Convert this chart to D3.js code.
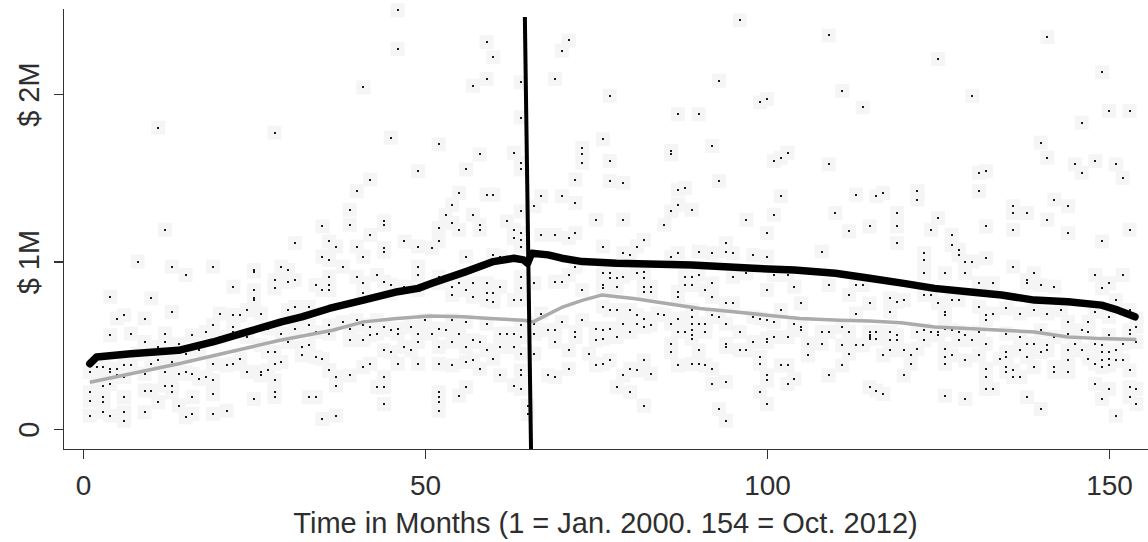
<!DOCTYPE html>
<html>
<head>
<meta charset="utf-8">
<script src="https://cdn.jsdelivr.net/npm/d3@7"></script>
<style>
  html, body { margin: 0; padding: 0; background: #fff; }
  svg { display: block; }
  text { font-family: "Liberation Sans", Arial, sans-serif; fill: #2e2e2e; }
</style>
</head>
<body>
<svg id="chart" width="1148" height="542"></svg>
<script>
// ---------------- DATA ----------------
const xTicks = [0, 50, 100, 150];
const yTicks = [0, 1, 2];                 // millions of dollars
const yTickLabels = ["0", "$ 1M", "$ 2M"];
const xTitle = "Time in Months (1 = Jan. 2000. 154 = Oct. 2012)";

// mean (black) line: month, value in $M
const meanMonths = [1, 2, 7, 14, 19, 24, 29, 32, 36, 41, 46, 49, 51, 56, 60, 63, 64.4, 65, 65.6, 68, 70, 73, 76, 78, 89, 98, 104, 110, 115, 120, 124.5, 129.4, 134.3, 139.1, 144, 148.9, 151.3, 153.8];
const meanValues = [0.39, 0.43, 0.45, 0.47, 0.52, 0.58, 0.64, 0.67, 0.72, 0.77, 0.82, 0.84, 0.87, 0.94, 1.00, 1.02, 1.01, 0.99, 1.05, 1.04, 1.02, 1.00, 0.995, 0.99, 0.98, 0.96, 0.95, 0.93, 0.90, 0.87, 0.84, 0.82, 0.80, 0.77, 0.76, 0.74, 0.71, 0.67];

// median (grey) line
const medianMonths = [1, 7, 14, 21.4, 28.8, 36.5, 41, 45.9, 50.7, 55.6, 59.5, 64.4, 65.8, 70.2, 73.1, 75.8, 80.5, 85.3, 90.2, 95.1, 100, 104.8, 110.7, 115, 119.6, 124.5, 129.4, 134.3, 139.1, 144, 148.9, 154];
const medianValues = [0.28, 0.33, 0.39, 0.46, 0.53, 0.59, 0.64, 0.66, 0.675, 0.67, 0.66, 0.65, 0.64, 0.73, 0.77, 0.80, 0.78, 0.75, 0.72, 0.70, 0.68, 0.66, 0.65, 0.645, 0.635, 0.61, 0.60, 0.59, 0.58, 0.55, 0.54, 0.535];

// vertical break line (month, $M) top and bottom
const breakLine = [[64.6, 2.46], [65.5, -0.12]];

// individual observations: [month, value in $M]
const scatter = [
 [11,1.80],[28,1.77],[12,1.19],[31,1.11],[35,1.21],[36,1.12],
 [46,2.50],[46,2.27],[41,2.04],[59,2.31],[60,2.22],[59,2.09],[57,2.05],[64,2.07],[64,1.86],[71,2.32],[70,2.26],[69,2.09],
 [45,1.74],[52,1.70],[58,1.64],[63,1.65],[64,1.59],[64,1.55],[56,1.55],[49,1.54],[42,1.49],[73,1.68],[73,1.64],[73,1.59],[72,1.49],
 [40,1.42],[39,1.31],[55,1.41],[59,1.40],[60,1.40],[54,1.34],[53,1.28],[57,1.28],[64,1.30],[66,1.33],[67,1.39],[70,1.39],[72,1.35],[75,1.25],
 [39,1.22],[44,1.24],[44,1.22],[52,1.20],[54,1.23],[55,1.19],[58,1.22],[58,1.19],[62,1.24],[63,1.19],[64,1.17],[63,1.14],
 [37,1.09],[42,1.16],[44,1.08],[44,1.06],[47,1.12],[49,1.09],[52,1.12],[51,1.08],[56,1.03],[60,1.04],[61,1.03],[64,1.13],[64,1.09],[40,1.09],[41,1.03],
 [67,1.16],[69,1.16],[71,1.14],[72,1.17],
 [96,2.44],[109,2.35],[93,2.08],[77,1.99],[87,1.88],[90,1.88],[99,1.95],[100,1.97],[111,2.02],[114,1.92],[76,1.73],[77,1.60],[86,1.66],[86,1.64],[92,1.69],
 [101,1.60],[102,1.62],[103,1.65],[109,1.58],[77,1.48],[79,1.47],[93,1.48],[87,1.43],[88,1.44],[87,1.34],[89,1.31],[86,1.30],[102,1.39],[101,1.28],
 [113,1.40],[116,1.39],[117,1.41],[110,1.29],[119,1.29],[79,1.25],[85,1.22],[97,1.25],[112,1.18],[115,1.21],[82,1.13],[81,1.09],[94,1.11],[100,1.17],[119,1.11],
 [141,2.34],[125,2.21],[149,2.13],[130,1.99],[150,1.90],[153,1.90],[146,1.83],[140,1.71],[141,1.62],[145,1.58],[148,1.60],[146,1.53],[151,1.58],[152,1.50],
 [131,1.53],[132,1.54],[131,1.42],[122,1.42],[122,1.37],[142,1.37],[144,1.33],[136,1.33],[136,1.29],[138,1.29],[141,1.25],[119,1.21],[125,1.26],[124,1.19],
 [127,1.16],[127,1.10],[132,1.21],[136,1.19],[144,1.17],[149,1.12],[153,1.19],
 [76,1.09],[79,1.05],[80,1.04],[81,1.09],[86,1.03],[87,1.05],[90,1.06],[92,1.05],[94,1.06],[95,1.05],[98,1.04],[100,1.03],[108,1.06],
 [123,1.05],[123,1.01],[128,1.07],[128,1.04],[129,1.00],[130,1.00],[132,1.02],[123,0.93],[126,0.93],[129,0.93],[136,0.97],[139,0.93],[138,0.89],[138,0.87],
 [140,0.86],[142,0.85],[148,0.92],[150,0.87],[149,0.84],[152,0.92],[131,0.87],[133,0.87],
 [8,1.00],[35,1.03],[36,1.01],[13,0.97],[15,0.92],[19,0.97],[25,0.95],[25,0.94],[29,0.97],[30,0.95],[28,0.89],[28,0.84],[30,0.88],[31,0.89],[22,0.85],
 [25,0.83],[25,0.78],[25,0.77],[34,0.86],[35,0.83],[36,0.86],[36,0.83],
 [4,0.79],[10,0.78],[13,0.70],[5,0.66],[6,0.68],[9,0.66],[4,0.56],[7,0.57],[9,0.52],[12,0.57],[12,0.52],[14,0.51],[16,0.56],[20,0.69],[18,0.58],[19,0.62],
 [22,0.68],[23,0.68],[24,0.71],[26,0.69],[30,0.71],[31,0.73],[33,0.73],[20,0.55],[22,0.61],[22,0.58],
 [1,0.34],[2,0.37],[3,0.37],[4,0.36],[4,0.34],[5,0.36],[6,0.38],[7,0.38],[9,0.33],[3,0.26],[4,0.27],[5,0.32],[6,0.31],[10,0.39],[11,0.41],[12,0.34],[13,0.40],
 [14,0.33],[15,0.34],[16,0.33],[17,0.30],[18,0.31],[19,0.29],[19,0.39],[21,0.38],[22,0.39],[23,0.42],[24,0.34],[26,0.34],[26,0.32],[27,0.35],[27,0.46],
 [28,0.46],[28,0.39],[28,0.29],[29,0.40],[32,0.49],[33,0.50],[34,0.43],[35,0.42],[36,0.35],[32,0.44],
 [1,0.22],[1,0.17],[3,0.19],[3,0.16],[6,0.19],[9,0.23],[10,0.23],[11,0.16],[12,0.26],[13,0.22],[13,0.26],[14,0.14],[16,0.19],[19,0.21],[16,0.09],[15,0.07],
 [1,0.08],[3,0.10],[4,0.08],[6,0.10],[6,0.05],[9,0.10],[19,0.09],[21,0.11],[25,0.18],[28,0.22],[28,0.19],[33,0.19],[34,0.19],[35,0.06],
 [24,0.55],[27,0.60],[29,0.57],[31,0.60],[33,0.62],[34,0.58],[36,0.62],[30,0.52],[26,0.50],[17,0.47],[15,0.45],[8,0.45],[11,0.49],[2,0.29],
 [36,0.91],[38,0.97],[40,0.91],[41,0.87],[41,0.81],[43,0.92],[44,0.88],[45,0.81],[45,0.86],[47,0.85],[49,0.97],[49,0.92],[49,0.83],[52,0.91],[52,0.87],
 [54,0.85],[54,0.80],[55,0.87],[56,0.83],[57,0.87],[57,0.79],[59,0.87],[59,0.81],[59,0.77],[60,0.81],[60,0.76],[61,0.85],[63,0.77],[64,0.91],[64,0.84],[64,0.77],
 [66,0.87],[69,0.88],[70,0.88],[71,0.92],[73,0.83],[72,0.97],
 [36,0.57],[38,0.64],[39,0.60],[39,0.53],[40,0.65],[41,0.62],[41,0.53],[42,0.61],[42,0.56],[43,0.65],[43,0.57],[44,0.61],[44,0.47],[45,0.59],[45,0.46],
 [46,0.60],[46,0.57],[47,0.49],[48,0.61],[48,0.47],[49,0.57],[49,0.52],[50,0.65],[51,0.57],[52,0.60],[52,0.49],[53,0.59],[54,0.65],[54,0.52],[55,0.57],
 [56,0.64],[56,0.49],[57,0.53],[57,0.41],[58,0.52],[59,0.63],[59,0.47],[60,0.42],[61,0.57],[61,0.49],[62,0.57],[63,0.57],[63,0.49],[64,0.62],[64,0.55],[64,0.45],
 [66,0.63],[66,0.57],[66,0.45],[67,0.69],[68,0.59],[69,0.59],[69,0.52],[70,0.64],[71,0.47],[72,0.58],[72,0.55],[73,0.65],[74,0.45],[75,0.60],[75,0.53],
 [36,0.35],[39,0.32],[41,0.37],[42,0.39],[43,0.25],[44,0.25],[44,0.15],[44,0.31],[46,0.39],[49,0.39],[52,0.22],[52,0.19],[52,0.16],[52,0.11],[52,0.39],
 [54,0.38],[55,0.20],[56,0.25],[56,0.40],[58,0.36],[61,0.32],[63,0.26],[64,0.35],[64,0.32],[64,0.24],[65,0.14],[65,0.09],[68,0.32],[69,0.31],[71,0.36],[75,0.38],
 [37,0.08],[37,0.31],[37,0.26],
 [76,0.93],[76,0.86],[76,0.84],[77,0.93],[77,0.90],[78,0.90],[78,0.85],[79,0.91],[81,0.93],[82,0.94],[82,0.90],[82,0.85],[82,0.82],[83,0.85],[83,0.82],
 [87,0.82],[87,0.79],[88,0.91],[88,0.86],[89,0.91],[89,0.86],[90,0.92],[91,0.83],[92,0.87],[92,0.79],[95,0.91],[97,0.93],[100,0.83],[101,0.92],[103,0.92],
 [104,0.85],[109,0.86],[112,0.80],[113,0.86],[114,0.86],[115,0.75],
 [76,0.73],[77,0.71],[78,0.71],[80,0.71],[81,0.68],[82,0.66],[84,0.69],[85,0.68],[87,0.66],[89,0.71],[89,0.67],[89,0.63],[89,0.59],[89,0.56],[89,0.54],
 [90,0.63],[91,0.63],[92,0.68],[93,0.67],[94,0.75],[94,0.63],[94,0.51],[94,0.49],[95,0.75],[96,0.58],[98,0.67],[99,0.66],[100,0.65],[100,0.54],[100,0.52],
 [101,0.64],[101,0.55],[102,0.71],[103,0.55],[104,0.63],[105,0.75],[105,0.61],[105,0.59],[106,0.44],[108,0.58],[108,0.51],[109,0.58],[111,0.61],[111,0.50],
 [112,0.58],[112,0.45],[113,0.69],[113,0.50],[114,0.50],[115,0.58],[115,0.55],[76,0.59],[76,0.54],[77,0.60],[78,0.55],[79,0.63],[80,0.58],[81,0.63],[82,0.61],
 [83,0.62],[86,0.63],[86,0.51],[86,0.46],[87,0.58],[87,0.38],[88,0.58],[90,0.47],[91,0.58],[96,0.47],[97,0.47],[98,0.52],[99,0.43],[99,0.39],[102,0.38],
 [103,0.38],[106,0.51],[76,0.39],[77,0.41],
 [79,0.32],[80,0.36],[81,0.35],[82,0.41],[83,0.33],[78,0.25],[80,0.22],[82,0.14],[89,0.39],[90,0.39],[91,0.38],[92,0.36],[92,0.27],[93,0.12],[94,0.28],
 [94,0.05],[99,0.22],[100,0.32],[100,0.29],[100,0.15],[103,0.27],[104,0.30],[109,0.32],[111,0.38],[115,0.25],
 [118,0.78],[118,0.70],[119,0.76],[120,0.77],[123,0.80],[124,0.80],[125,0.75],[126,0.70],[126,0.68],[127,0.77],[128,0.77],[131,0.73],[132,0.68],[132,0.65],
 [133,0.69],[135,0.72],[137,0.69],[139,0.71],[141,0.69],[143,0.71],[144,0.64],[147,0.64],[148,0.70],[150,0.67],[151,0.77],[153,0.71],[154,0.66],
 [115,0.56],[115,0.54],[116,0.58],[116,0.54],[118,0.58],[118,0.53],[119,0.56],[119,0.53],[117,0.44],[118,0.47],[120,0.47],[121,0.44],[121,0.39],[120,0.32],
 [122,0.58],[122,0.48],[123,0.59],[123,0.53],[124,0.58],[125,0.58],[125,0.56],[126,0.60],[126,0.48],[126,0.43],[126,0.39],[127,0.59],[127,0.44],[128,0.58],
 [128,0.53],[129,0.56],[129,0.41],[130,0.53],[131,0.58],[131,0.44],[132,0.51],[132,0.36],[132,0.31],[134,0.42],[135,0.57],[135,0.46],[135,0.43],[135,0.37],
 [135,0.34],[136,0.35],[136,0.31],[137,0.55],[137,0.47],[137,0.31],[138,0.51],[138,0.43],[139,0.51],[139,0.37],[140,0.59],[140,0.46],[141,0.50],[141,0.47],
 [142,0.55],[142,0.37],[142,0.34],[144,0.57],[144,0.47],[144,0.41],[144,0.34],[145,0.51],[146,0.59],[146,0.47],[147,0.58],[147,0.42],[148,0.51],[148,0.39],
 [149,0.50],[149,0.46],[149,0.41],[149,0.37],[150,0.56],[150,0.46],[150,0.42],[150,0.38],[151,0.47],[151,0.41],[152,0.51],[152,0.41],[153,0.59],[153,0.57],
 [153,0.35],[154,0.52],[154,0.61],
 [116,0.23],[117,0.21],[126,0.20],[129,0.18],[132,0.24],[133,0.24],[138,0.19],[140,0.12],[148,0.27],[150,0.24],[149,0.18],[151,0.08],[153,0.19],[153,0.25],
 [154,0.24],[154,0.15]
];

// ---------------- CHART ----------------
const svg = d3.select("#chart");
const plotLeft = 63, plotRight = 1148, plotTop = 8, plotBottom = 449;

const x = d3.scaleLinear().domain([-2.92, 155.7]).range([plotLeft, plotRight]);
const y = d3.scaleLinear().domain([-0.119, 2.514]).range([plotBottom, plotTop]);

// halos (faint grey blotches behind each observation)
svg.append("g")
  .selectAll("rect")
  .data(scatter)
  .join("rect")
  .attr("x", d => x(d[0]) - 7)
  .attr("y", d => y(d[1]) - 7)
  .attr("width", 14)
  .attr("height", 14)
  .attr("fill", "#f5f5f5");

// dark dots
svg.append("g")
  .selectAll("rect")
  .data(scatter)
  .join("rect")
  .attr("x", d => Math.round(x(d[0])) - 1)
  .attr("y", d => Math.round(y(d[1])) - 1)
  .attr("width", 2)
  .attr("height", 2)
  .attr("fill", "#1a1a1a");

const line = d3.line().x(d => x(d[0])).y(d => y(d[1]));

// median line
svg.append("path")
  .datum(d3.zip(medianMonths, medianValues))
  .attr("d", line)
  .attr("fill", "none")
  .attr("stroke", "#ababab")
  .attr("stroke-width", 3.5)
  .attr("stroke-linejoin", "round");

// mean line
svg.append("path")
  .datum(d3.zip(meanMonths, meanValues))
  .attr("d", line)
  .attr("fill", "none")
  .attr("stroke", "#000")
  .attr("stroke-width", 7.5)
  .attr("stroke-linejoin", "round")
  .attr("stroke-linecap", "round");

// vertical break line
svg.append("path")
  .datum(breakLine)
  .attr("d", line)
  .attr("fill", "none")
  .attr("stroke", "#000")
  .attr("stroke-width", 4);

// axes
const xAxis = svg.append("g")
  .attr("transform", `translate(0,${plotBottom})`)
  .call(d3.axisBottom(x).tickValues(xTicks).tickSize(10).tickSizeOuter(0).tickFormat(d3.format("d")));
xAxis.select(".domain").attr("stroke", "#333").attr("stroke-width", 1.6);
xAxis.selectAll(".tick line").attr("stroke", "#333").attr("stroke-width", 1.6);
xAxis.selectAll(".tick text")
  .attr("y", 46).attr("dy", 0)
  .attr("font-size", 28)
  .attr("fill", "#2e2e2e");

const yAxis = svg.append("g")
  .attr("transform", `translate(${plotLeft},0)`)
  .call(d3.axisLeft(y).tickValues(yTicks).tickSize(9).tickSizeOuter(0).tickFormat((d, i) => yTickLabels[i]));
yAxis.select(".domain").attr("stroke", "#333").attr("stroke-width", 1.6);
yAxis.selectAll(".tick line").attr("stroke", "#333").attr("stroke-width", 1.6);
yAxis.selectAll(".tick text")
  .attr("x", 0).attr("dy", 0)
  .attr("text-anchor", "middle")
  .attr("transform", "translate(-24.5,0) rotate(-90)")
  .attr("font-size", 29)
  .attr("fill", "#2e2e2e");
svg.selectAll(".domain, .tick line").attr("shape-rendering", "crispEdges");

// axis title
svg.append("text")
  .attr("x", (plotLeft + plotRight) / 2)
  .attr("y", 533)
  .attr("text-anchor", "middle")
  .attr("font-size", 29)
  .text(xTitle);
</script>
</body>
</html>
